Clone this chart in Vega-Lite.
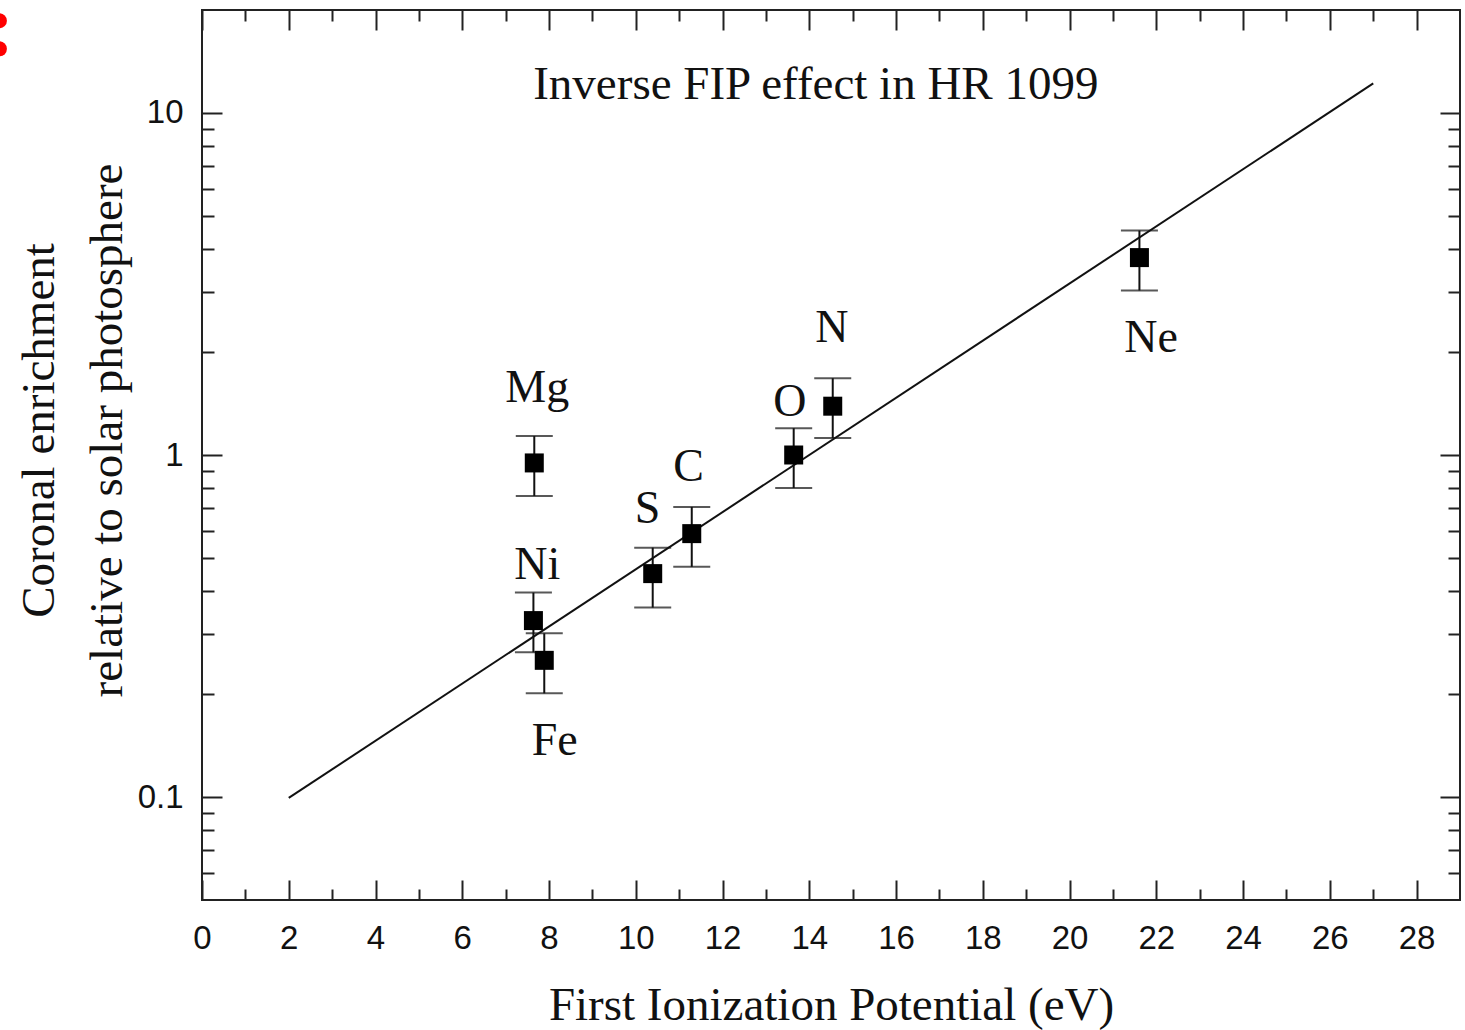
{
  "$schema": "https://vega.github.io/schema/vega-lite/v6.json",
  "width": 1258,
  "height": 890,
  "autosize": "none",
  "padding": {"left": 202, "top": 10, "right": 5, "bottom": 130},
  "background": "white",
  "config": {
    "view": {"stroke": "#222", "strokeWidth": 2},
    "axis": {
      "domain": false,
      "grid": false,
      "tickColor": "#222",
      "tickWidth": 2,
      "labelFont": "Liberation Sans",
      "labelFontSize": 33,
      "labelColor": "#111",
      "titleFont": "Liberation Serif",
      "titleFontSize": 47,
      "titleFontWeight": "normal",
      "titleColor": "#111"
    }
  },
  "datasets": {
    "fit": [
      {"fip": 2, "enrich": 0.0994},
      {"fip": 27, "enrich": 12.2}
    ],
    "elements": [
      {"el": "Mg", "fip": 7.66, "val": 0.948, "lo": 0.759, "hi": 1.136},
      {"el": "Ni", "fip": 7.64, "val": 0.328, "lo": 0.265, "hi": 0.396},
      {"el": "Fe", "fip": 7.89, "val": 0.251, "lo": 0.201, "hi": 0.301},
      {"el": "S", "fip": 10.39, "val": 0.45, "lo": 0.358, "hi": 0.536},
      {"el": "C", "fip": 11.29, "val": 0.589, "lo": 0.471, "hi": 0.705},
      {"el": "O", "fip": 13.64, "val": 1.0, "lo": 0.801, "hi": 1.198},
      {"el": "N", "fip": 14.54, "val": 1.389, "lo": 1.121, "hi": 1.677},
      {"el": "Ne", "fip": 21.61, "val": 3.777, "lo": 3.027, "hi": 4.53}
    ],
    "labels": [
      {"text": "Mg", "lx": 7.73, "ly": 1.567},
      {"text": "Ni", "lx": 7.73, "ly": 0.478},
      {"text": "Fe", "lx": 8.13, "ly": 0.1457},
      {"text": "S", "lx": 10.27, "ly": 0.696},
      {"text": "C", "lx": 11.22, "ly": 0.92},
      {"text": "O", "lx": 13.55, "ly": 1.427},
      {"text": "N", "lx": 14.52, "ly": 2.345},
      {"text": "Ne", "lx": 21.88, "ly": 2.2}
    ],
    "heading": [
      {"text": "Inverse FIP effect in HR 1099", "lx": 14.15, "ly": 12.1}
    ],
    "marker": [
      {"mx": -4.67, "my": 18.6},
      {"mx": -4.67, "my": 15.4}
    ]
  },
  "layer": [
    {
      "data": {"name": "fit"},
      "mark": {"type": "line", "color": "#111", "strokeWidth": 2},
      "encoding": {
        "x": {
          "field": "fip", "type": "quantitative",
          "scale": {"domain": [0, 29], "nice": false, "zero": false},
          "axis": {
            "orient": "bottom",
            "values": [0, 2, 4, 6, 8, 10, 12, 14, 16, 18, 20, 22, 24, 26, 28],
            "tickSize": -20,
            "labelPadding": 42,
            "labelFlush": false,
            "labelOverlap": false,
            "title": "First Ionization Potential (eV)",
            "titleX": 629,
            "titleY": 119,
            "titleAlign": "center",
            "titleBaseline": "alphabetic"
          }
        },
        "y": {
          "field": "enrich", "type": "quantitative",
          "scale": {"type": "log", "domain": [0.05, 20], "nice": false},
          "axis": {
            "orient": "left",
            "values": [0.1, 1, 10],
            "tickSize": -20,
            "labelPadding": 39,
            "labelFlush": false,
            "labelOverlap": false,
            "labelExpr": "'' + datum.value",
            "title": ["Coronal enrichment", "relative to solar photosphere"],
            "titleAngle": 270,
            "titleX": -149,
            "titleY": 420,
            "titleAlign": "center",
            "titleBaseline": "alphabetic",
            "titleLineHeight": 68
          }
        }
      }
    },
    {
      "data": {"name": "elements"},
      "mark": {"type": "rule", "color": "#111", "strokeWidth": 2},
      "encoding": {
        "x": {
          "field": "fip", "type": "quantitative",
          "scale": {"domain": [0, 29], "nice": false, "zero": false},
          "axis": {
            "orient": "bottom",
            "values": [1, 3, 5, 7, 9, 11, 13, 15, 17, 19, 21, 23, 25, 27],
            "tickSize": -11,
            "labels": false,
            "title": null
          }
        },
        "y": {
          "field": "lo", "type": "quantitative",
          "scale": {"type": "log", "domain": [0.05, 20], "nice": false},
          "axis": {
            "orient": "left",
            "values": [0.06, 0.07, 0.08, 0.09, 0.2, 0.3, 0.4, 0.5, 0.6, 0.7, 0.8, 0.9, 2, 3, 4, 5, 6, 7, 8, 9],
            "tickSize": -12,
            "labels": false,
            "title": null
          }
        },
        "y2": {"field": "hi"}
      }
    },
    {
      "data": {"name": "elements"},
      "mark": {"type": "tick", "orient": "horizontal", "size": 37, "thickness": 2, "color": "#111"},
      "encoding": {
        "x": {
          "field": "fip", "type": "quantitative",
          "scale": {"domain": [0, 29], "nice": false, "zero": false},
          "axis": {
            "orient": "top",
            "values": [0, 2, 4, 6, 8, 10, 12, 14, 16, 18, 20, 22, 24, 26, 28],
            "tickSize": -20,
            "labels": false,
            "title": null
          }
        },
        "y": {
          "field": "lo", "type": "quantitative",
          "scale": {"type": "log", "domain": [0.05, 20], "nice": false},
          "axis": {
            "orient": "right",
            "values": [0.1, 1, 10],
            "tickSize": -20,
            "labels": false,
            "title": null
          }
        }
      }
    },
    {
      "data": {"name": "elements"},
      "mark": {"type": "tick", "orient": "horizontal", "size": 37, "thickness": 2, "color": "#111"},
      "encoding": {
        "x": {
          "field": "fip", "type": "quantitative",
          "scale": {"domain": [0, 29], "nice": false, "zero": false},
          "axis": {
            "orient": "top",
            "values": [1, 3, 5, 7, 9, 11, 13, 15, 17, 19, 21, 23, 25, 27],
            "tickSize": -11,
            "labels": false,
            "title": null
          }
        },
        "y": {
          "field": "hi", "type": "quantitative",
          "scale": {"type": "log", "domain": [0.05, 20], "nice": false},
          "axis": {
            "orient": "right",
            "values": [0.06, 0.07, 0.08, 0.09, 0.2, 0.3, 0.4, 0.5, 0.6, 0.7, 0.8, 0.9, 2, 3, 4, 5, 6, 7, 8, 9],
            "tickSize": -12,
            "labels": false,
            "title": null
          }
        }
      }
    },
    {
      "data": {"name": "elements"},
      "mark": {"type": "point", "shape": "square", "filled": true, "size": 361, "color": "#000", "opacity": 1},
      "encoding": {
        "x": {"field": "fip", "type": "quantitative", "scale": {"domain": [0, 29], "nice": false, "zero": false}, "axis": null},
        "y": {"field": "val", "type": "quantitative", "scale": {"type": "log", "domain": [0.05, 20], "nice": false}, "axis": null}
      }
    },
    {
      "data": {"name": "labels"},
      "mark": {"type": "text", "font": "Liberation Serif", "fontSize": 46, "color": "#111", "align": "center", "baseline": "middle"},
      "encoding": {
        "x": {"field": "lx", "type": "quantitative", "scale": {"domain": [0, 29], "nice": false, "zero": false}, "axis": null},
        "y": {"field": "ly", "type": "quantitative", "scale": {"type": "log", "domain": [0.05, 20], "nice": false}, "axis": null},
        "text": {"field": "text"}
      }
    },
    {
      "data": {"name": "heading"},
      "mark": {"type": "text", "font": "Liberation Serif", "fontSize": 47, "color": "#111", "align": "center", "baseline": "middle"},
      "encoding": {
        "x": {"field": "lx", "type": "quantitative", "scale": {"domain": [0, 29], "nice": false, "zero": false}, "axis": null},
        "y": {"field": "ly", "type": "quantitative", "scale": {"type": "log", "domain": [0.05, 20], "nice": false}, "axis": null},
        "text": {"field": "text"}
      }
    },
    {
      "data": {"name": "marker"},
      "mark": {"type": "point", "shape": "circle", "filled": true, "size": 225, "color": "#ff0000", "opacity": 1, "clip": false},
      "encoding": {
        "x": {"field": "mx", "type": "quantitative", "scale": {"domain": [0, 29], "nice": false, "zero": false}, "axis": null},
        "y": {"field": "my", "type": "quantitative", "scale": {"type": "log", "domain": [0.05, 20], "nice": false}, "axis": null}
      }
    }
  ],
  "resolve": {"axis": {"x": "independent", "y": "independent"}}
}
